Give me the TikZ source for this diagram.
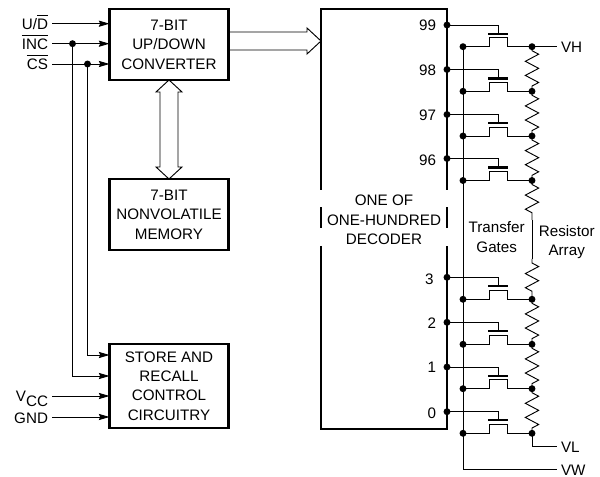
\documentclass[tikz,border=0pt]{standalone}
\usepackage{fontspec}
\setmainfont{Liberation Sans}
\usetikzlibrary{arrows.meta}
\usetikzlibrary{calc}
\usetikzlibrary{decorations.pathmorphing}

\newcommand{\barred}[1]{$\overline{\mbox{\rule{0pt}{9.6pt}#1}}$}

\begin{document}
\begin{tikzpicture}[
            x = 0.75pt, y = -0.75pt,
            > = {Stealth[length=8pt,width=4.6pt,inset=1pt]}, % arrow head style
            line width = 0.7pt, % line style
            every node/.style = {font=\fontsize{11.4}{14.6}\selectfont}
        ]

        \tikzstyle{block}=[
            draw,
            line width = 1.6pt,
            align = center,
            inner sep = 0pt,
            outer sep = 0pt,
            minimum width = 89.25pt
        ]
        \tikzstyle{junction}=[
            circle,
            fill = black,
            inner sep = 0pt,
            minimum size = 5.2pt
        ]
        \tikzstyle{sigtext}=[
            inner ysep = 0pt,
            inner xsep = 3pt,
            outer sep = 0pt,
            text height = 9pt,
            text depth = 0pt
        ]
        \tikzstyle{gatebar}=[
            fill = black,
            inner sep = 0pt,
            minimum width = 15pt,
            minimum height = 1.6pt
        ]
        \tikzstyle{resistor}=[
            decorate,
            decoration = {zigzag, segment length = 10.6pt, amplitude = 5pt,
                pre length = 3pt, post length = 3pt}
        ]
        \tikzstyle{bus}=[line width = 0.7pt]


        % blocks
        \node[block, minimum height = 53.25pt] (CONV) at (169,44.5) {7-BIT\\UP/DOWN\\CONVERTER};
        \node[block, minimum height = 53.25pt] (MEM) at (169,214.5) {7-BIT\\NONVOLATILE\\MEMORY};
        \node[block, minimum height = 63pt] (STORE) at (169,386) {STORE AND\\RECALL\\CONTROL\\CIRCUITRY};

        % decoder
        \node[align = center] (DEC) at (384,220) {ONE OF\\ONE-HUNDRED\\DECODER};
        \draw[line width = 1.6pt] (321,190) -- (321,9) -- (447,9) -- (447,190);
        \draw[line width = 1.6pt] (321,207.5) -- (321,228);
        \draw[line width = 1.6pt] (447,207.5) -- (447,228);
        \draw[line width = 1.6pt] (321,246) -- (321,429) -- (447,429) -- (447,246);

        % inputs
        \node[sigtext, anchor = east] (UD) at (52,23.7) {U/\barred{D}};
        \node[sigtext, anchor = east] (INC) at (52,43.7) {\barred{INC}};
        \node[sigtext, anchor = east] (CS) at (52,64) {\barred{CS}};
        \node[sigtext, anchor = east] (VCC) at (52,396) {V\raisebox{-3.6pt}{CC}};
        \node[sigtext, anchor = east] (GND) at (52,417) {GND};

        \path[draw, ->] (UD.east) -- (UD.east -| CONV.west);
        \path[draw, ->] (INC.east) -- (INC.east -| CONV.west);
        \path[draw, ->] (CS.east) -- (CS.east -| CONV.west);
        \path[draw, ->] (VCC.east) -- (VCC.east -| STORE.west);
        \path[draw, ->] (GND.east) -- (GND.east -| STORE.west);

        \node[junction] (J1) at (72.5,43.7) {};
        \node[junction] (J2) at (87.5,64) {};
        \coordinate (SA) at (STORE.west |- 0,376);
        \coordinate (SB) at (STORE.west |- 0,355);
        \path[draw, ->] (J1.center) |- (SA);
        \path[draw, ->] (J2.center) |- (SB);

        % hollow arrows
        \draw[bus] (CONV.south) -- ++(13,12) -- ++(-4,0) -- ($(MEM.north)+(9,-12)$) -- ($(MEM.north)+(13,-12)$)
            -- (MEM.north) -- ($(MEM.north)+(-13,-12)$) -- ($(MEM.north)+(-9,-12)$)
            -- ($(CONV.south)+(-9,12)$) -- ($(CONV.south)+(-13,12)$) -- cycle;
        \coordinate (BT) at (321,41);
        \draw[bus] (CONV.east |- 0,32) -- (307,32) -- (307,28) -- (BT) -- (307,54) -- (307,50) -- (CONV.east |- 0,50);

        % row 99
        \node[junction] (T99) at (447,25) {};
        \node[anchor = east] (N99) at (441,25) {99};
        \node[junction] (S99) at (463,46.7) {};
        \node[junction] (D99) at (532,46.7) {};
        \node[gatebar] (G99) at (498,33.7) {};
        \draw (T99.center) -| (G99.center);
        \draw (S99.center) -- ++(26,0) -- ++(0,-9) -- ++(18,0) -- ++(0,9) -- (D99.center);

        % row 98
        \node[junction] (T98) at (447,69.5) {};
        \node[anchor = east] (N98) at (441,70.5) {98};
        \node[junction] (S98) at (463,91.3) {};
        \node[junction] (D98) at (532,91.3) {};
        \node[gatebar] (G98) at (498,78.5) {};
        \draw (T98.center) -| (G98.center);
        \draw (S98.center) -- ++(26,0) -- ++(0,-9) -- ++(18,0) -- ++(0,9) -- (D98.center);

        % row 97
        \node[junction] (T97) at (447,114.5) {};
        \node[anchor = east] (N97) at (441,115) {97};
        \node[junction] (S97) at (463,136) {};
        \node[junction] (D97) at (532,136) {};
        \node[gatebar] (G97) at (498,123) {};
        \draw (T97.center) -| (G97.center);
        \draw (S97.center) -- ++(26,0) -- ++(0,-9) -- ++(18,0) -- ++(0,9) -- (D97.center);

        % row 96
        \node[junction] (T96) at (447,158.5) {};
        \node[anchor = east] (N96) at (441,160) {96};
        \node[junction] (S96) at (463,180.5) {};
        \node[junction] (D96) at (532,180.5) {};
        \node[gatebar] (G96) at (498,167.5) {};
        \draw (T96.center) -| (G96.center);
        \draw (S96.center) -- ++(26,0) -- ++(0,-9) -- ++(18,0) -- ++(0,9) -- (D96.center);

        % row 3
        \node[junction] (T3) at (447,277.3) {};
        \node[anchor = east] (N3) at (438.5,279) {3};
        \node[junction] (S3) at (463,299.3) {};
        \node[junction] (D3) at (532,299.3) {};
        \node[gatebar] (G3) at (498,285.7) {};
        \draw (T3.center) -| (G3.center);
        \draw (S3.center) -- ++(26,0) -- ++(0,-9) -- ++(18,0) -- ++(0,9) -- (D3.center);

        % row 2
        \node[junction] (T2) at (447,322.3) {};
        \node[anchor = east] (N2) at (441,323.5) {2};
        \node[junction] (S2) at (463,344.3) {};
        \node[junction] (D2) at (532,344.3) {};
        \node[gatebar] (G2) at (498,331) {};
        \draw (T2.center) -| (G2.center);
        \draw (S2.center) -- ++(26,0) -- ++(0,-9) -- ++(18,0) -- ++(0,9) -- (D2.center);

        % row 1
        \node[junction] (T1) at (447,367) {};
        \node[anchor = east] (N1) at (441,367.5) {1};
        \node[junction] (S1) at (463,388.7) {};
        \node[junction] (D1) at (532,388.7) {};
        \node[gatebar] (G1) at (498,376) {};
        \draw (T1.center) -| (G1.center);
        \draw (S1.center) -- ++(26,0) -- ++(0,-9) -- ++(18,0) -- ++(0,9) -- (D1.center);

        % row 0
        \node[junction] (T0) at (447,411.7) {};
        \node[anchor = east] (N0) at (441,413) {0};
        \node[junction] (S0) at (463,433.3) {};
        \node[junction] (D0) at (532,433.3) {};
        \node[gatebar] (G0) at (498,420) {};
        \draw (T0.center) -| (G0.center);
        \draw (S0.center) -- ++(26,0) -- ++(0,-9) -- ++(18,0) -- ++(0,9) -- (D0.center);

        % resistor array
        \coordinate (RA) at (532,220);
        \coordinate (RB) at (532,259);
        \draw[resistor] (D99.center) -- (D98.center);
        \draw[resistor] (D98.center) -- (D97.center);
        \draw[resistor] (D97.center) -- (D96.center);
        \draw[resistor] (D96.center) -- (RA);
        \draw (RA) -- (RB);
        \draw[resistor] (RB) -- (D3.center);
        \draw[resistor] (D3.center) -- (D2.center);
        \draw[resistor] (D2.center) -- (D1.center);
        \draw[resistor] (D1.center) -- (D0.center);

        % outputs
        \node[sigtext, anchor = west] (VH) at (557,46.7) {VH};
        \node[sigtext, anchor = west] (VL) at (557,446) {VL};
        \node[sigtext, anchor = west] (VW) at (557,469.3) {VW};
        \draw (D99.center) -- (VH.west);
        \draw (D0.center) |- (VL.west);
        \draw (S99.center) |- (VW.west);

        \node[align = center] (TG) at (496.7,237) {Transfer\\Gates};
        \node[align = center] (RS) at (566.7,242) {Resistor\\Array};

        \useasboundingbox (0,0) rectangle (600,477);
  \end{tikzpicture}
\end{document}
